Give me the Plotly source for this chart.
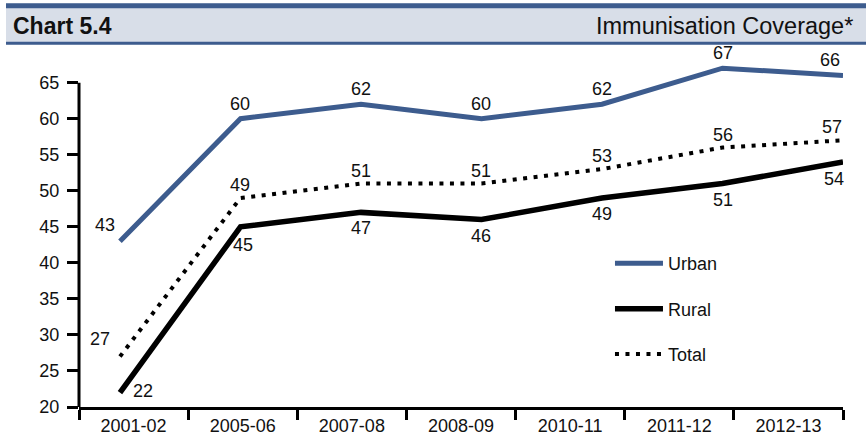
import plotly.graph_objects as go

# Survey years (categories) and coverage values in per cent
years = ["2001-02", "2005-06", "2007-08", "2008-09", "2010-11", "2011-12", "2012-13"]
urban = [43, 60, 62, 60, 62, 67, 66]
rural = [22, 45, 47, 46, 49, 51, 54]
total = [27, 49, 51, 51, 53, 56, 57]

y_ticks = [20, 25, 30, 35, 40, 45, 50, 55, 60, 65]

FONT = "Liberation Sans, Arial, sans-serif"
BLUE = "#3D5C8E"
BAND = "#D8DEE8"
INK = "#111111"
FS = 18

idx = list(range(len(years)))

# plot-area geometry in pixels (used for the header band only)
L, R, T, B = 79, 23, 61, 36
W, H = 866, 448
PW, PH = W - L - R, H - T - B

fig = go.Figure()

fig.add_trace(go.Scatter(
    x=idx, y=urban, name="Urban", mode="lines",
    line=dict(color=BLUE, width=5),
    legendgroup="u", hoverinfo="skip",
))
fig.add_trace(go.Scatter(
    x=idx, y=rural, name="Rural", mode="lines",
    line=dict(color="black", width=5.5),
    legendgroup="r", hoverinfo="skip",
))
fig.add_trace(go.Scatter(
    x=idx, y=total, name="Total", mode="lines",
    line=dict(color="black", width=4, dash="4px,6.5px"),
    legendgroup="t", hoverinfo="skip",
))
# carrier for the category axis that shows the year labels
fig.add_trace(go.Scatter(
    x=years, y=[None] * len(years), xaxis="x2", mode="lines",
    showlegend=False, hoverinfo="skip",
))

# value labels: (series, x-shift per point, y-shift per point)
label_specs = [
    (urban, [-15, 0, 0, 0, 0, 0, -13], [16, 15, 15, 15, 15, 15, 15]),
    (total, [-20, 0, 0, 0, 0, 0, -11], [18, 13, 13, 13, 13, 13, 13]),
    (rural, [23, 3, 0, 0, 0, 0, -9], [2, -18, -16, -16, -16, -16, -17]),
]
for values, dxs, dys in label_specs:
    for i, v in enumerate(values):
        fig.add_annotation(
            x=idx[i], y=v, text=str(v), showarrow=False,
            xanchor="center", yanchor="middle",
            xshift=dxs[i], yshift=dys[i],
            font=dict(family=FONT, size=FS, color=INK),
        )

fig.update_layout(
    width=W, height=H,
    margin=dict(l=L, r=R, t=T, b=B),
    paper_bgcolor="white", plot_bgcolor="white",
    font=dict(family=FONT, size=FS, color=INK),
    showlegend=True,
    legend=dict(
        x=0.695, y=0.468, xanchor="left", yanchor="top",
        bgcolor="rgba(0,0,0,0)", borderwidth=0,
        tracegroupgap=19, itemwidth=48,
        font=dict(family=FONT, size=FS, color=INK),
    ),
    xaxis=dict(
        range=[-0.34, 6.0], showticklabels=False, ticks="",
        showline=False, showgrid=False, zeroline=False,
    ),
    xaxis2=dict(
        type="category", overlaying="x", anchor="y", side="bottom",
        range=[-0.5, 6.5], tickmode="array", tickvals=years, ticktext=years,
        tickson="boundaries", ticks="outside", ticklen=10, tickwidth=3,
        tickcolor="black", showline=True, linewidth=3, linecolor="black",
        showgrid=False, zeroline=False,
        tickfont=dict(family=FONT, size=FS, color=INK),
    ),
    yaxis=dict(
        range=[20, 68], tickmode="array", tickvals=y_ticks,
        ticks="outside", ticklen=11, tickwidth=3, tickcolor="black",
        showline=False, showgrid=False, zeroline=False, ticklabelstandoff=4,
        tickfont=dict(family=FONT, size=FS, color=INK),
    ),
)

# vertical axis line, stopping at the top tick
fig.add_shape(type="line", xref="paper", yref="y",
              x0=0, x1=0, y0=y_ticks[0], y1=y_ticks[-1],
              line=dict(color="black", width=3))

# header band with the chart number and title
def px_x(p):
    return (p - L) / PW

def px_y(p):
    return (H - B - p) / PH

fig.add_shape(type="rect", xref="paper", yref="paper",
              x0=px_x(6), x1=px_x(870), y0=px_y(44), y1=px_y(3),
              fillcolor=BAND, line_width=0, layer="below")
fig.add_shape(type="rect", xref="paper", yref="paper",
              x0=px_x(6), x1=px_x(870), y0=px_y(7.5), y1=px_y(2.5),
              fillcolor=BLUE, line_width=0)
fig.add_shape(type="rect", xref="paper", yref="paper",
              x0=px_x(6), x1=px_x(870), y0=px_y(44.5), y1=px_y(41.5),
              fillcolor=BLUE, line_width=0)

fig.add_annotation(text="<b>Chart 5.4</b>", xref="paper", yref="paper",
                   x=px_x(11), y=px_y(25.5), xanchor="left", yanchor="middle",
                   showarrow=False,
                   font=dict(family=FONT, size=23, color=INK))
fig.add_annotation(text="Immunisation Coverage*", xref="paper", yref="paper",
                   x=px_x(855), y=px_y(25.5), xanchor="right", yanchor="middle",
                   showarrow=False,
                   font=dict(family=FONT, size=23.5, color=INK))

fig.write_html("out.html")
